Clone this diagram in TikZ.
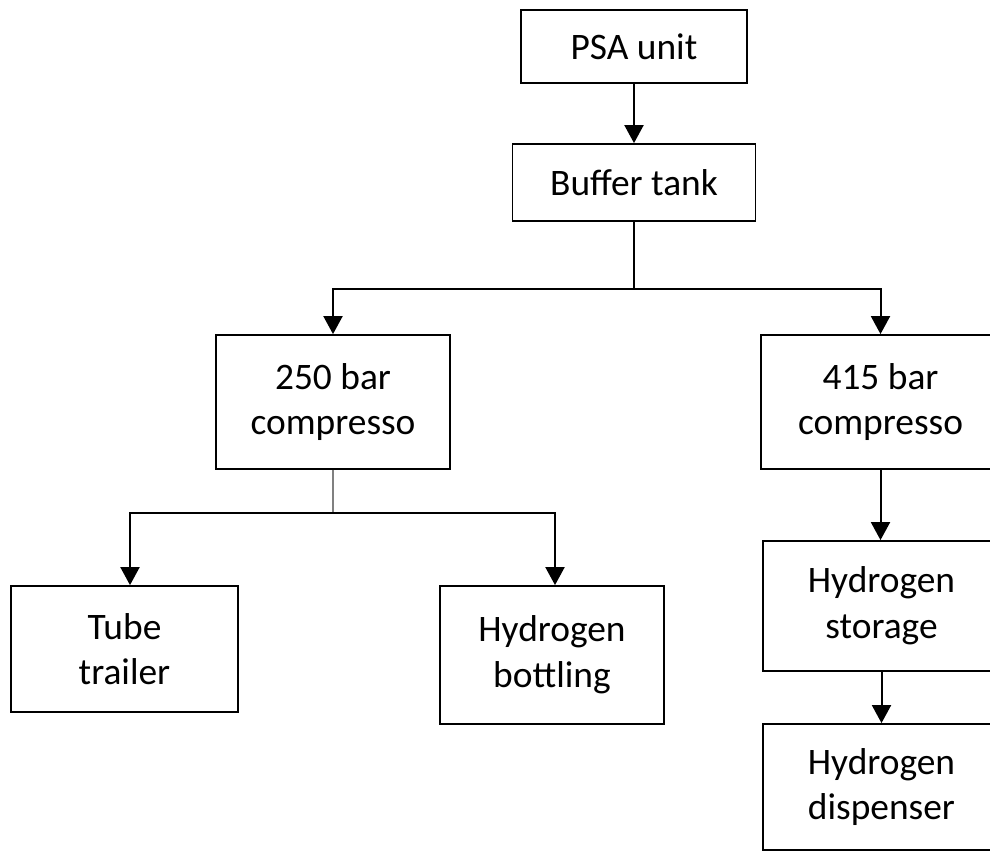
\documentclass[tikz,border=0pt]{standalone}
\usepackage{fontspec}
\setmainfont{Carlito}
\usetikzlibrary{arrows.meta}
\begin{document}
\begin{tikzpicture}[x=1pt,y=-1pt,
  box/.style={draw=black, line width=1.8pt, inner sep=0pt, align=center,
    font=\fontsize{37.4}{45.6}\selectfont, text=black},
  link/.style={line width=2pt, draw=black},
  conn/.style={link, -{Triangle[width=19pt,length=18pt]}},
  stub/.style={line width=2pt, draw=black!50}]
\useasboundingbox (0,0) rectangle (990,852);
\clip (0,0) rectangle (990,852);
\node[box, minimum width=226pt, minimum height=73pt] (psa) at (634,46.5) {PSA unit};
\node[box, minimum width=243pt, minimum height=77pt] (buf) at (634,182.5) {Buffer tank};
\node[box, minimum width=234pt, minimum height=134pt] (c250) at (333,402) {250 bar\\compresso};
\node[box, minimum width=239pt, minimum height=134pt] (c415) at (880.5,402) {415 bar\\compresso};
\node[box, minimum width=227pt, minimum height=126pt] (tube) at (124.5,649) {Tube\\trailer};
\node[box, minimum width=224pt, minimum height=138pt] (bot) at (552,655) {Hydrogen\\bottling};
\node[box, minimum width=237pt, minimum height=130pt] (sto) at (881.5,606) {Hydrogen\\storage};
\node[box, minimum width=237pt, minimum height=126pt] (dis) at (881.5,787) {Hydrogen\\dispenser};
\coordinate (j1) at (634,289);
\coordinate (j2) at (333,513);
\draw[conn] (psa.south) -- (buf.north);
\draw[link] (buf.south) -- (j1);
\draw[conn] (j1) -| (c250.north);
\draw[conn] (j1) -| (c415.north);
\draw[stub] (c250.south) -- (j2);
\draw[conn] (j2) -| ([xshift=5.5pt]tube.north);
\draw[conn] (j2) -| ([xshift=3pt]bot.north);
\draw[conn] (c415.south) -- (c415.south |- sto.north);
\draw[conn] (sto.south) -- (sto.south |- dis.north);
\end{tikzpicture}
\end{document}
